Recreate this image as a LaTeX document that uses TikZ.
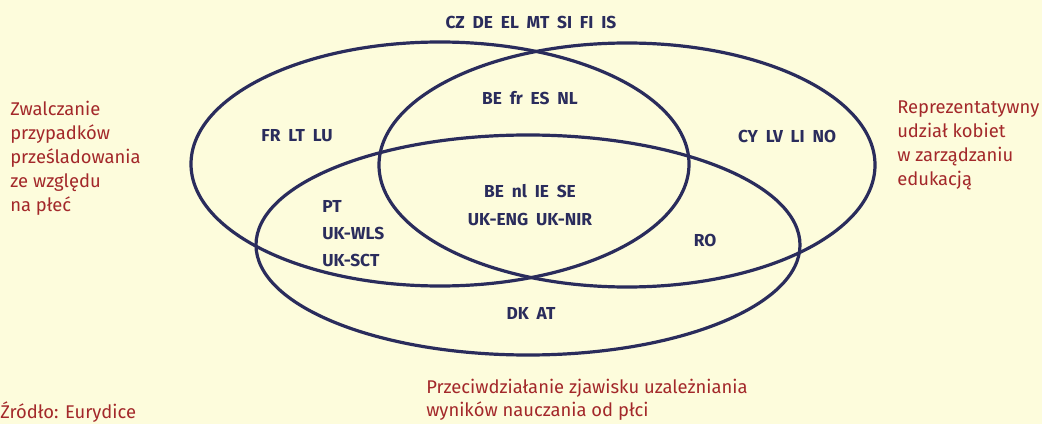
\documentclass[tikz,border=0pt]{standalone}
\usepackage{fontspec}
\setmainfont{Fira Sans}
\newfontfamily\ctryfont[WordSpace=1.9]{Fira Sans}
\definecolor{bgcol}{HTML}{FDFCDC}
\definecolor{navy}{HTML}{2A2C5C}
\definecolor{redlab}{HTML}{A3282A}
\tikzstyle{ctry} = [text=navy, font=\ctryfont\bfseries\fontsize{13}{20}\selectfont, inner sep=0pt]
\tikzstyle{area} = [text=redlab, font=\fontsize{13.8}{18}\selectfont, inner sep=0pt, align=left]
\tikzstyle{set} = [draw=navy, line width=2.4pt]
\usetikzlibrary{positioning}

\begin{document}
\begin{tikzpicture}[x=0.75pt, y=-0.75pt]
          \fill[bgcol] (0,0) rectangle (1042,424);
          \clip (0,0) rectangle (1042,424);

          % three sets
          \draw [set] (440,164) ellipse [x radius=186.75pt, y radius=91.5pt];
          \draw [set] (627,165) ellipse [x radius=186pt, y radius=91.5pt];
          \draw [set] (528,245) ellipse [x radius=204pt, y radius=82.5pt];

          % countries
          \node (none) [ctry] at (531,22) {CZ DE EL MT SI FI IS};
          \node (ab) [ctry] at (530,98) {BE fr ES NL};
          \node (a) [ctry] at (297,136) {FR LT LU};
          \node (b) [ctry] at (787,136) {CY LV LI NO};
          \node (abc) [ctry] at (530,191) {BE nl IE SE};
          \node (abc2) [ctry, below=11pt of abc.south] {UK-ENG UK-NIR};
          \node (ac) [ctry, anchor=west] at (322,206) {PT};
          \node (ac2) [ctry, anchor=west] at (322,233) {UK-WLS};
          \node (ac3) [ctry, anchor=west] at (322,260) {UK-SCT};
          \node (bc) [ctry] at (705,240) {RO};
          \node (c) [ctry] at (531,313) {DK AT};

          % set names
          \node (seta) [area, anchor=north west] at (10,101) {Zwalczanie\\przypadków\\prześladowania\\ze względu\\na płeć};
          \node (setb) [area, anchor=north west] at (897,101) {Reprezentatywny\\udział kobiet\\w zarządzaniu\\edukacją};
          \node (setc) [area, anchor=north west, font=\fontsize{13.8}{17.3}\selectfont] at (426,379) {Przeciwdziałanie zjawisku uzależniania\\wyników nauczania od płci};
          \node (src) [area, anchor=south west] at (0,423) {Źródło: Eurydice};
        \end{tikzpicture}
\end{document}
